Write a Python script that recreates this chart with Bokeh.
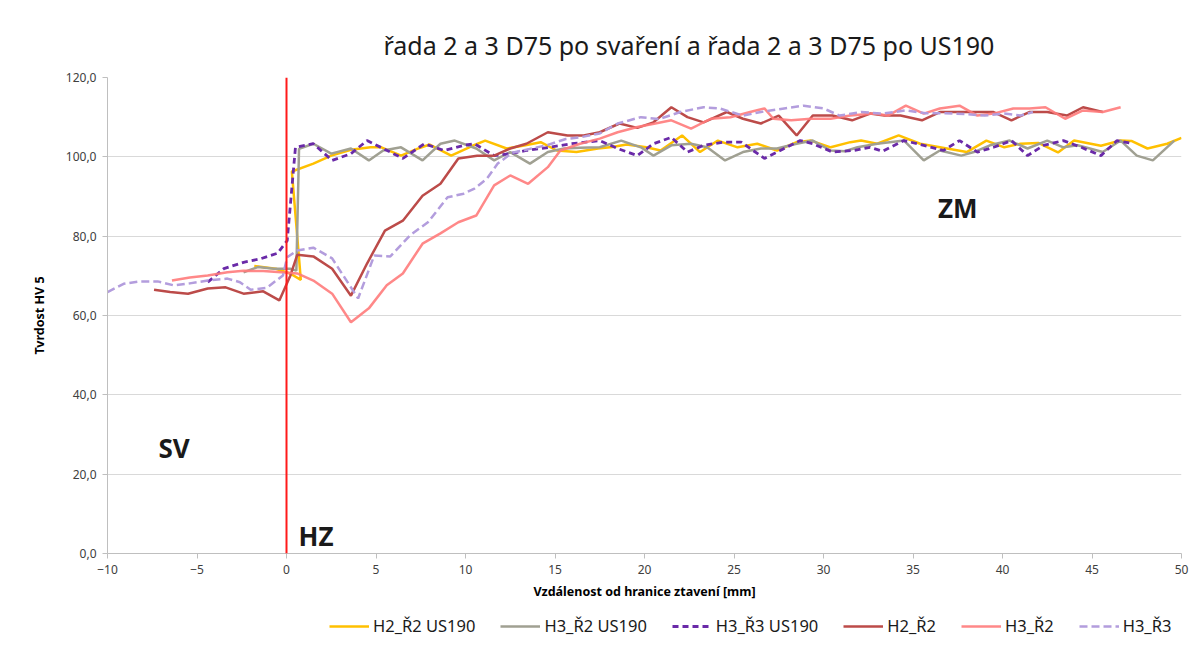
from bokeh.plotting import figure
from bokeh.layouts import column
from bokeh.models import (Range1d, FixedTicker, Legend, LegendItem, Span)
from bokeh.core.properties import value
from bokeh.embed import file_html
from bokeh.resources import INLINE

title_text = "řada 2 a 3 D75 po svaření a řada 2 a 3 D75 po US190"
x_label = "Vzdálenost od hranice ztavení [mm]"
y_label = "Tvrdost HV 5"

x_ticks = [-10, -5, 0, 5, 10, 15, 20, 25, 30, 35, 40, 45, 50]
y_ticks = [0, 20, 40, 60, 80, 100, 120]
y_tick_labels = ["0,0", "20,0", "40,0", "60,0", "80,0", "100,0", "120,0"]

# H2_Ř2 US190
h2r2_us_x = [-1.8, -0.6, 0.2, 0.8, 0.3, 1.5, 2.5, 3.6, 4.7, 5.3, 6.4, 7.3, 8.0, 9.2, 10.3, 11.1, 12.3, 13.2,
             14.2, 15.1, 16.2, 17.4, 18.2, 19.0, 20.1, 20.9, 22.1, 23.1, 24.1, 25.2, 26.3, 27.4, 28.5, 29.3,
             30.4, 31.5, 32.1, 33.0, 34.2, 35.4, 36.9, 38.0, 39.1, 40.1, 41.0, 42.0, 43.1, 44.0, 45.5, 46.6,
             47.2, 48.1, 49.2, 50.0]
h2r2_us_y = [72.5, 71.8, 70.6, 69.0, 96.3, 98.3, 100.3, 101.8, 102.4, 102.4, 100.3, 102.0, 103.1, 100.3, 102.6,
             104.1, 102.1, 102.8, 103.7, 101.6, 101.2, 102.1, 102.5, 103.1, 102.4, 101.6, 105.4, 101.2, 104.1,
             102.4, 103.3, 101.6, 103.7, 104.1, 102.4, 103.7, 104.1, 103.3, 105.4, 103.3, 102.1, 101.2, 104.1,
             102.4, 103.3, 103.5, 101.1, 104.1, 102.8, 104.1, 104.0, 102.1, 103.3, 104.8]

# H3_Ř2 US190
h3r2_us_x = [-2.4, -1.6, -0.7, 0.2, 0.55, 0.7, 1.5, 2.5, 3.6, 4.6, 5.4, 6.4, 7.6, 8.6, 9.4, 10.6, 11.6, 12.5,
             13.6, 14.6, 15.5, 16.4, 17.5, 18.7, 19.8, 20.5, 21.5, 22.6, 23.5, 24.5, 25.5, 26.5, 27.4, 28.5,
             29.4, 30.4, 31.2, 31.9, 33.0, 34.5, 35.6, 36.5, 37.7, 38.4, 39.3, 40.4, 41.4, 42.5, 43.4, 44.2,
             45.6, 46.6, 47.5, 48.4, 49.6]
h3r2_us_y = [70.9, 72.2, 71.8, 71.8, 71.3, 102.0, 103.3, 100.8, 102.1, 99.1, 101.6, 102.4, 99.1, 103.3, 104.1,
             102.1, 99.1, 101.2, 98.3, 101.2, 102.1, 102.3, 102.4, 104.1, 102.4, 100.3, 102.9, 103.3, 102.4,
             99.1, 101.2, 102.1, 102.1, 103.3, 104.1, 101.6, 101.4, 102.4, 103.3, 104.1, 99.1, 101.6, 100.3,
             101.2, 102.9, 104.1, 102.1, 104.1, 102.4, 102.9, 101.2, 104.1, 100.3, 99.1, 104.1]

# H3_Ř3 US190
h3r3_us_x = [-4.4, -3.5, -2.4, -1.45, -0.5, 0.04, 0.5, 1.5, 2.55, 3.6, 4.5, 5.4, 6.5, 7.7, 8.8, 9.9, 10.5,
             11.6, 12.5, 13.4, 14.7, 15.9, 17.5, 18.5, 19.6, 20.5, 21.5, 22.4, 23.3, 24.4, 25.4, 26.7, 27.8,
             28.7, 29.4, 30.5, 31.7, 32.6, 33.3, 34.5, 35.6, 36.7, 37.6, 38.6, 39.5, 40.5, 41.4, 42.3, 43.4,
             44.4, 45.5, 46.4, 47.3]
h3r3_us_y = [68.4, 71.8, 73.4, 74.3, 75.7, 78.9, 102.4, 103.3, 99.1, 100.8, 104.1, 102.1, 99.6, 103.3, 101.6,
             102.9, 103.3, 100.3, 100.8, 101.6, 102.4, 103.3, 104.1, 102.1, 100.3, 103.3, 104.9, 101.2, 102.9,
             103.7, 103.7, 99.6, 102.1, 104.1, 103.3, 101.2, 101.6, 102.4, 101.4, 104.1, 102.9, 101.6, 104.1,
             101.2, 102.4, 104.1, 100.3, 102.9, 104.1, 102.4, 100.3, 104.1, 103.3]

# H2_Ř2
h2r2_x = [-7.4, -6.5, -5.5, -4.4, -3.4, -2.4, -1.3, -0.4, 0.22, 0.6, 1.5, 2.55, 3.6, 4.5, 5.5, 6.5, 7.6, 8.6,
          9.6, 10.65, 11.6, 12.5, 13.4, 14.6, 15.7, 16.6, 17.5, 18.6, 19.6, 20.5, 21.5, 22.4, 23.3, 24.6, 25.5,
          26.5, 27.5, 28.5, 29.4, 30.5, 31.6, 32.6, 33.4, 34.3, 35.5, 36.5, 37.7, 38.4, 39.5, 40.5, 41.5, 42.5,
          43.6, 44.5, 45.6]
h2r2_y = [66.5, 65.9, 65.5, 66.8, 67.1, 65.5, 66.1, 63.8, 70.1, 75.3, 74.9, 71.8, 65.0, 73.1, 81.4, 83.9, 90.2,
          93.2, 99.6, 100.3, 100.3, 102.1, 103.3, 106.2, 105.4, 105.4, 106.2, 108.4, 107.3, 108.7, 112.5, 110.0,
          108.7, 111.3, 109.6, 108.4, 110.4, 105.4, 110.4, 110.4, 109.2, 110.9, 110.4, 110.4, 109.2, 111.3,
          111.3, 111.3, 111.3, 109.2, 111.3, 111.3, 110.4, 112.5, 111.3]

# H3_Ř2
h3r2_x = [-6.4, -5.4, -4.4, -3.3, -2.4, -1.3, -0.3, 0.6, 1.5, 2.55, 3.6, 4.6, 5.6, 6.5, 7.6, 8.6, 9.6, 10.6,
          11.6, 12.5, 13.5, 14.6, 15.3, 16.4, 17.5, 18.5, 19.6, 20.6, 21.5, 22.6, 23.7, 24.8, 25.9, 26.7, 27.2,
          28.2, 29.3, 30.4, 31.5, 32.8, 33.6, 34.6, 35.6, 36.5, 37.6, 38.6, 39.5, 40.6, 41.5, 42.4, 43.5, 44.5,
          45.6, 46.6]
h3r2_y = [68.8, 69.6, 70.1, 70.9, 71.3, 71.2, 70.9, 70.6, 68.8, 65.5, 58.3, 61.8, 67.6, 70.6, 78.1, 80.7, 83.5,
          85.2, 92.8, 95.3, 93.2, 97.4, 101.6, 103.3, 104.6, 106.2, 107.5, 108.4, 109.2, 107.1, 109.6, 110.0,
          111.3, 112.2, 109.6, 109.2, 109.6, 109.6, 110.4, 110.9, 110.4, 112.9, 110.9, 112.2, 112.9, 110.4,
          110.9, 112.2, 112.2, 112.5, 109.6, 111.7, 111.3, 112.5]

# H3_Ř3
h3r3_x = [-10.0, -9.1, -8.2, -7.2, -6.3, -5.4, -4.4, -3.3, -2.6, -2.0, -1.1, -0.2, 0.04, 0.6, 1.5, 2.55, 3.6,
          4.0, 4.9, 5.8, 6.9, 7.9, 9.0, 9.9, 10.5, 11.2, 11.8, 12.6, 13.6, 14.6, 15.6, 16.5, 17.5, 18.5, 19.8,
          20.8, 22.0, 23.3, 24.2, 25.5, 26.5, 27.8, 28.9, 30.0, 30.9, 32.1, 33.3, 34.6, 35.7, 36.8, 37.9, 39.0,
          40.1, 41.0, 41.7]
h3r3_y = [65.9, 68.0, 68.6, 68.6, 67.6, 68.1, 68.8, 69.3, 68.4, 66.5, 67.0, 70.1, 74.7, 76.4, 77.1, 74.4, 67.1,
          64.3, 75.1, 74.9, 80.2, 83.5, 89.8, 90.7, 92.0, 94.5, 98.3, 101.0, 102.0, 103.0, 104.5, 105.0, 105.9,
          108.4, 110.0, 109.5, 111.3, 112.5, 112.2, 110.4, 111.3, 112.2, 112.9, 112.2, 110.4, 111.3, 110.9,
          111.7, 111.0, 111.0, 110.8, 110.4, 110.9, 110.4, 111.3]

series_names = ["H2_Ř2 US190", "H3_Ř2 US190", "H3_Ř3 US190", "H2_Ř2", "H3_Ř2", "H3_Ř3"]

zone_labels = ["SV", "HZ", "ZM"]
zone_x = [-7.15, 0.67, 36.4]
zone_y = [26.5, 4.5, 87.0]

FONT = "Noto Sans"

styles = [
    dict(line_color="#ffc000", line_width=2.5),
    dict(line_color="#a0a092", line_width=2.5),
    dict(line_color="#6a2aa8", line_width=2.8, line_dash="6 4"),
    dict(line_color="#bc4b49", line_width=2.5),
    dict(line_color="#ff7b7b", line_width=2.5, line_alpha=0.9),
    dict(line_color="#b39ddd", line_width=2.5, line_dash="8 4"),
]

p = figure(frame_width=1074, frame_height=476, output_backend="svg", toolbar_location=None,
           x_range=Range1d(-10, 50), y_range=Range1d(0, 120),
           min_border_left=107, min_border_right=9, min_border_top=77, min_border_bottom=50,
           title=title_text)
p.outline_line_color = None
p.background_fill_color = "white"
p.border_fill_color = "white"

p.title.text_font = FONT
p.title.text_font_size = "25px"
p.title.text_font_style = "normal"
p.title.text_color = "#1a1a1a"
p.title.align = "left"
p.title.offset = 276
p.title.standoff = 31

p.xgrid.grid_line_color = None
p.ygrid.grid_line_color = "#d9d9d9"
p.ygrid.grid_line_width = 1

p.xaxis.ticker = FixedTicker(ticks=x_ticks)
p.yaxis.ticker = FixedTicker(ticks=y_ticks)
p.yaxis.major_label_overrides = {t: l for t, l in zip(y_ticks, y_tick_labels)}
for ax in (p.xaxis[0], p.yaxis[0]):
    ax.axis_line_color = "#bfbfbf"
    ax.major_tick_line_color = "#bfbfbf"
    ax.major_tick_out = 5
    ax.major_tick_in = 0
    ax.minor_tick_line_color = None
    ax.major_label_text_font = FONT
    ax.major_label_text_font_size = "12px"
    ax.major_label_text_color = "#404040"
    ax.axis_label_text_font = FONT
    ax.axis_label_text_font_size = "12.5px"
    ax.axis_label_text_font_style = "bold"
    ax.axis_label_text_color = "#000000"
p.xaxis.axis_label = x_label
p.yaxis.axis_label = y_label
p.xaxis.major_label_standoff = 6
p.xaxis.axis_label_standoff = 6
p.yaxis.major_label_standoff = 6
p.yaxis.axis_label_standoff = 15

boundary = Span(location=0, dimension="height", line_color="#ff1a1a", line_width=2)
p.add_layout(boundary)

series = [(h2r2_us_x, h2r2_us_y), (h3r2_us_x, h3r2_us_y), (h3r3_us_x, h3r3_us_y),
          (h2r2_x, h2r2_y), (h3r2_x, h3r2_y), (h3r3_x, h3r3_y)]
for (sx, sy), st in zip(series, styles):
    p.line(sx, sy, **st)

p.text(x=zone_x, y=zone_y, text=zone_labels, text_font=value(FONT), text_font_size="26px",
       text_font_style="bold", text_color="#1a1a1a", text_baseline="middle", text_align="left")

# legend strip below the chart (its series lie outside this strip's visible range)
lf = figure(width=1190, height=48, output_backend="svg", toolbar_location=None,
            x_range=Range1d(-10, 50), y_range=Range1d(-200, -100), min_border=0)
lf.axis.visible = False
lf.grid.visible = False
lf.outline_line_color = None
lf.border_fill_color = "white"
lf.background_fill_color = "white"
leg_renderers = [lf.line(sx, sy, **st) for (sx, sy), st in zip(series, styles)]
legend = Legend(items=[LegendItem(label=n, renderers=[r]) for n, r in zip(series_names, leg_renderers)],
                orientation="horizontal", location=(222, 14))
legend.border_line_color = None
legend.background_fill_alpha = 0
legend.label_text_font = FONT
legend.label_text_font_size = "16.5px"
legend.label_text_color = "#1a1a1a"
legend.glyph_width = 40
legend.label_standoff = 4
legend.spacing = 25
legend.padding = 0
legend.margin = 0
lf.add_layout(legend)

open("out.html", "w").write(file_html(column(p, lf, spacing=0), INLINE))
